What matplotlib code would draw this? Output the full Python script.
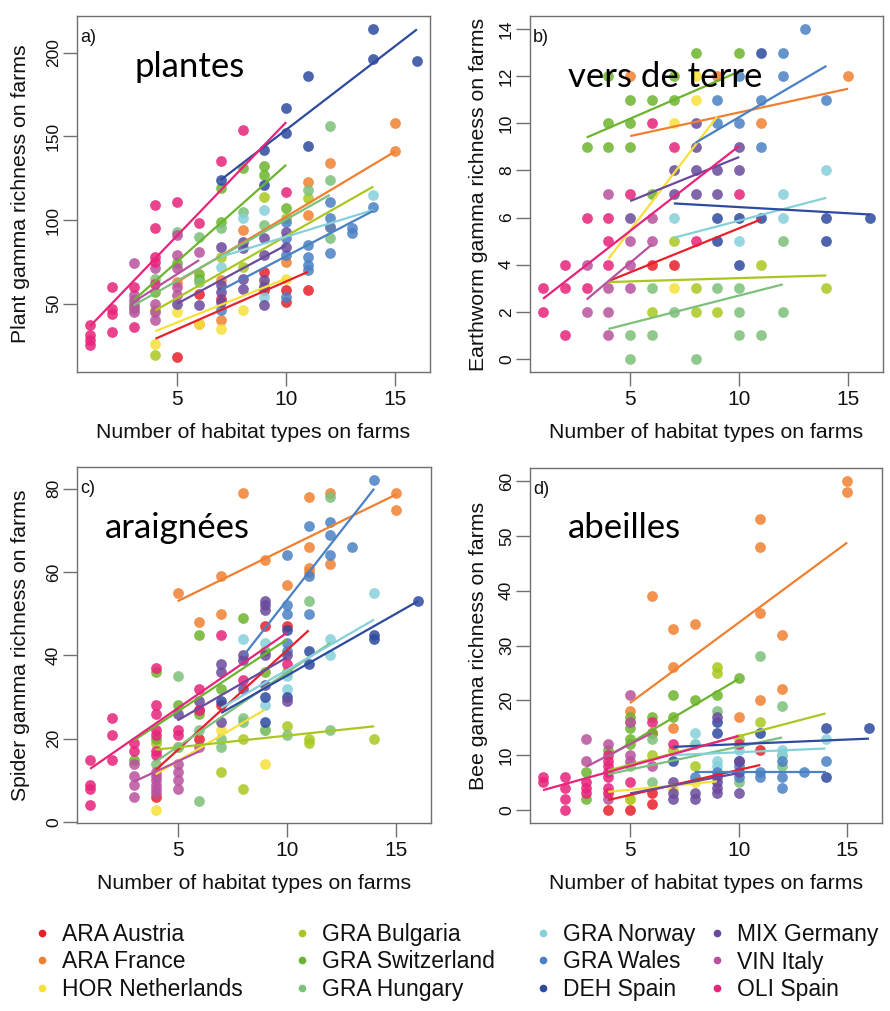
import matplotlib
matplotlib.use("Agg")
import matplotlib.pyplot as plt
from matplotlib.lines import Line2D

plt.rcParams['font.family'] = ['Liberation Sans', 'DejaVu Sans']

GROUPS = ["ARA Austria", "ARA France", "HOR Netherlands", "GRA Bulgaria",
          "GRA Switzerland", "GRA Hungary", "GRA Norway", "GRA Wales",
          "DEH Spain", "MIX Germany", "VIN Italy", "OLI Spain"]
COLORS = ["#E8202A", "#F08030", "#F7E03A", "#A8C820", "#6DB42E", "#7DC07A",
          "#86D0DA", "#4A80C4", "#2E4A9E", "#6A4A9C", "#B8529E", "#E8237A"]

XLABEL = "Number of habitat types on farms"
YLABELS = ["Plant gamma richness on farms", "Earthworm gamma richness on farms",
           "Spider gamma richness on farms", "Bee gamma richness on farms"]
TITLES = ["plantes", "vers de terre", "araignées", "abeilles"]
TAGS = ["a)", "b)", "c)", "d)"]
X_TICKS = [5, 10, 15]
Y_TICKS = [[50, 100, 150, 200], [0, 2, 4, 6, 8, 10, 12, 14],
           [0, 20, 40, 60, 80], [0, 10, 20, 30, 40, 50, 60]]

# ---------------- a) plants: (habitat types, richness) ----------------
plant_ARA_AT = [(5, 18), (6, 56), (7, 53), (9, 69), (9, 58), (10, 58), (10, 51), (11, 58)]
plant_ARA_FR = [(5, 63), (6, 38), (7, 64), (7, 40), (8, 94), (10, 75), (11, 123), (11, 103),
                (12, 134), (12, 96), (15, 158), (15, 141)]
plant_HOR_NL = [(4, 26), (5, 45), (6, 38), (7, 35), (8, 46), (9, 62), (10, 65)]
plant_GRA_BG = [(4, 19), (4, 46), (7, 78), (8, 72), (9, 114), (10, 101), (11, 113)]
plant_GRA_CH = [(3, 50), (4, 57), (5, 74), (6, 68), (6, 65), (7, 119), (7, 99), (8, 131),
                (9, 132), (9, 127), (10, 107)]
plant_GRA_HU = [(3, 47), (4, 65), (5, 93), (6, 90), (6, 63), (7, 95), (8, 105), (9, 97),
                (11, 118), (12, 156), (12, 124), (12, 89)]
plant_GRA_NO = [(7, 72), (8, 101), (9, 106), (9, 60), (9, 54), (14, 115)]
plant_GRA_WA = [(7, 46), (10, 99), (10, 89), (10, 79), (10, 54), (11, 85), (11, 78), (11, 73),
                (11, 70), (12, 111), (12, 101), (12, 96), (12, 80), (13, 95), (13, 92), (14, 108)]
plant_DEH_ES = [(7, 124), (9, 142), (9, 121), (10, 167), (10, 152), (11, 186), (11, 144),
                (14, 214), (14, 196), (16, 195)]
plant_MIX_DE = [(5, 50), (6, 49), (7, 84), (7, 61), (7, 57), (7, 51), (8, 87), (8, 83), (8, 65),
                (8, 59), (9, 89), (9, 79), (9, 64), (9, 60), (9, 49), (10, 93), (10, 84)]
plant_VIN_IT = [(3, 74), (3, 55), (3, 52), (3, 48), (3, 45), (4, 71), (4, 50), (4, 45), (4, 40),
                (5, 91), (5, 79), (5, 71), (5, 60), (5, 55), (6, 81)]
plant_OLI_ES = [(1, 37), (1, 31), (1, 28), (1, 25), (2, 60), (2, 47), (2, 44), (2, 33), (3, 60),
                (3, 36), (4, 109), (4, 95), (4, 78), (4, 75), (4, 62), (5, 111), (6, 98),
                (7, 135), (8, 154), (10, 117)]
# fitted lines per group (x from, x to, y from, y to), GROUPS order
plant_fits = [(4, 11, 29, 69), (5, 15, 63, 141), (4, 10, 33.5, 65), (4, 14, 46, 120),
              (3, 10, 52, 133), (3, 12, 49, 115), (7, 14, 78, 106), (7, 14, 58, 105.5),
              (7, 16, 124, 214), (5, 10, 50, 85), (3, 6, 51, 76), (1, 10, 36.5, 158.5)]

# ---------------- b) earthworms ----------------
worm_ARA_AT = [(6, 4), (7, 4)]
worm_ARA_FR = [(5, 12), (9, 12), (11, 10), (15, 12)]
worm_HOR_NL = [(7, 10), (7, 3), (8, 12), (8, 11)]
worm_GRA_BG = [(6, 2), (7, 5), (8, 3), (8, 2), (9, 2), (11, 4), (14, 3)]
worm_GRA_CH = [(3, 9), (4, 12), (4, 10), (4, 9), (5, 11), (5, 10), (5, 9), (6, 11), (6, 7),
               (7, 12), (7, 11), (8, 13), (10, 13)]
worm_GRA_HU = [(5, 1), (5, 0), (6, 3), (6, 1), (7, 2), (8, 0), (9, 3), (10, 3), (10, 2),
               (10, 1), (11, 1), (12, 5), (12, 2)]
worm_GRA_NO = [(7, 6), (10, 5), (12, 7), (12, 6), (14, 8)]
worm_GRA_WA = [(9, 11), (9, 10), (10, 12), (10, 10), (11, 11), (11, 9), (12, 13), (12, 12),
               (13, 14), (14, 11)]
worm_DEH_ES = [(9, 6), (9, 5), (10, 6), (10, 4), (11, 13), (11, 6), (14, 6), (14, 5), (16, 6)]
worm_MIX_DE = [(5, 6), (7, 8), (7, 7), (8, 10), (8, 9), (8, 8), (8, 7), (9, 8), (9, 7),
               (10, 9), (10, 8)]
worm_VIN_IT = [(3, 4), (3, 2), (4, 7), (4, 3), (4, 2), (4, 1), (5, 5), (5, 4), (5, 3),
               (6, 6), (6, 5)]
worm_OLI_ES = [(1, 3), (1, 2), (2, 4), (2, 3), (2, 1), (3, 6), (3, 3), (4, 6), (4, 5), (4, 4),
               (5, 7), (6, 10), (7, 9), (8, 5), (10, 7)]
worm_fits = [(4, 11, 3.3, 5.92), (5, 15, 9.46, 11.47), (4, 9, 4.25, 10.3), (4, 14, 3.26, 3.54),
             (3, 10, 9.4, 12.2), (4, 12, 1.27, 3.16), (7, 14, 5.14, 6.84), (8, 14, 9.18, 12.44),
             (7, 16, 6.6, 6.13), (5, 10, 6.7, 8.57), (3, 6, 2.52, 4.86), (1, 10, 2.55, 9.04)]

# ---------------- c) spiders ----------------
spider_ARA_AT = [(4, 6), (6, 27), (6, 20), (7, 28), (9, 47), (10, 47)]
spider_ARA_FR = [(5, 55), (6, 48), (7, 59), (7, 50), (8, 79), (9, 63), (10, 57), (11, 78),
                 (11, 66), (11, 61), (11, 60), (12, 79), (12, 62), (15, 79), (15, 75)]
spider_HOR_NL = [(4, 3), (7, 22), (9, 14)]
spider_GRA_BG = [(4, 19), (5, 18), (7, 12), (8, 20), (8, 8), (9, 22), (10, 23), (11, 20),
                 (11, 19), (14, 20)]
spider_GRA_CH = [(3, 15), (4, 36), (4, 20), (5, 28), (6, 45), (6, 26), (7, 32), (8, 49),
                 (9, 41), (9, 36), (10, 36)]
spider_GRA_HU = [(4, 14), (5, 35), (5, 18), (6, 22), (6, 5), (7, 18), (7, 20), (8, 25),
                 (8, 24), (9, 22), (10, 21), (11, 53), (12, 78), (12, 22)]
spider_GRA_NO = [(8, 44), (9, 43), (9, 28), (10, 32), (10, 35), (12, 44), (12, 40), (14, 55)]
spider_GRA_WA = [(10, 64), (10, 52), (10, 50), (10, 43), (10, 41), (11, 71), (11, 59),
                 (11, 50), (12, 72), (12, 69), (12, 64), (13, 66), (14, 82)]
spider_DEH_ES = [(7, 29), (9, 30), (9, 24), (10, 46), (10, 30), (11, 41), (11, 38), (14, 45),
                 (14, 44), (16, 53)]
spider_MIX_DE = [(5, 26), (6, 29), (7, 38), (7, 36), (7, 24), (8, 40), (8, 39), (8, 32),
                 (9, 53), (9, 52), (9, 51), (9, 40), (9, 33), (10, 40), (10, 29)]
spider_VIN_IT = [(3, 14), (3, 11), (3, 9), (3, 6), (4, 12), (4, 11), (4, 10), (4, 9), (4, 8),
                 (4, 7), (5, 14), (5, 12), (5, 10), (5, 8), (6, 18)]
spider_OLI_ES = [(1, 15), (1, 9), (1, 8), (1, 4), (2, 25), (2, 21), (2, 15), (3, 19), (3, 17),
                 (4, 37), (4, 28), (4, 26), (4, 22), (4, 21), (4, 17), (4, 16), (5, 22),
                 (5, 21), (6, 32), (6, 27), (7, 45), (8, 34), (10, 38)]
spider_fits = [(4, 11, 12.5, 46), (5, 15, 53, 78.6), (4, 9, 11.5, 27), (4, 14, 17.4, 23),
               (3, 10, 19.6, 43.8), (4, 12, 14.5, 43), (7, 14, 27.4, 48.6), (8, 14, 39.8, 80),
               (7, 16, 26.2, 53), (5, 10, 24.4, 39.5), (3, 6, 9.7, 17), (1, 10, 12.8, 45.4)]

# ---------------- d) bees ----------------
bee_ARA_AT = [(4, 0), (5, 0), (6, 1), (6, 3), (6, 14), (11, 11)]
bee_ARA_FR = [(5, 18), (5, 16), (6, 39), (7, 33), (7, 26), (7, 15), (8, 34), (10, 17),
              (11, 53), (11, 48), (11, 36), (11, 20), (12, 32), (12, 22), (15, 60), (15, 58)]
bee_HOR_NL = [(4, 3), (5, 2), (7, 4), (8, 5)]
bee_GRA_BG = [(5, 2), (6, 10), (7, 11), (8, 8), (9, 26), (9, 25), (10, 13), (11, 16), (12, 10)]
bee_GRA_CH = [(3, 7), (3, 2), (4, 11), (5, 17), (5, 15), (5, 13), (5, 12), (6, 17), (6, 14),
              (7, 21), (7, 17), (8, 20), (9, 21), (10, 24)]
bee_GRA_HU = [(5, 8), (6, 5), (6, 13), (8, 12), (9, 18), (10, 5), (11, 28), (12, 19), (12, 8)]
bee_GRA_NO = [(8, 14), (8, 12), (9, 9), (9, 8), (10, 11), (12, 11), (12, 10), (14, 13)]
bee_GRA_WA = [(8, 6), (9, 7), (10, 8), (10, 6), (11, 7), (11, 6), (12, 9), (12, 6), (12, 4),
              (13, 7), (14, 9)]
bee_DEH_ES = [(7, 9), (9, 16), (9, 14), (10, 9), (11, 14), (14, 15), (14, 6), (16, 15)]
bee_MIX_DE = [(7, 5), (7, 3), (7, 2), (8, 3), (8, 2), (9, 17), (9, 6), (9, 5), (9, 4), (9, 3),
              (10, 9), (10, 7), (10, 3)]
bee_VIN_IT = [(3, 13), (3, 9), (4, 12), (4, 2), (5, 21), (5, 16), (5, 10), (5, 9), (6, 8)]
bee_OLI_ES = [(1, 6), (1, 5), (2, 6), (2, 4), (2, 2), (2, 0), (3, 5), (3, 4), (3, 3), (4, 10),
              (4, 9), (4, 8), (4, 7), (4, 6), (4, 4), (4, 3), (5, 5), (6, 16), (7, 12), (10, 12)]
bee_fits = [(4, 11, 1.8, 8.2), (5, 15, 19.5, 48.8), (4, 9, 3.3, 5.2), (4, 14, 7.2, 17.6),
            (4, 10, 9.8, 23.9), (4, 12, 6.5, 13.2), (7, 14, 10, 11.2), (8, 14, 7.0, 7.0),
            (7, 16, 11.5, 13), (5, 10, 3, 6.7), (3, 6, 7.9, 14), (1, 10, 3.6, 13.5)]

PANEL_POINTS = [
    [plant_ARA_AT, plant_ARA_FR, plant_HOR_NL, plant_GRA_BG, plant_GRA_CH, plant_GRA_HU,
     plant_GRA_NO, plant_GRA_WA, plant_DEH_ES, plant_MIX_DE, plant_VIN_IT, plant_OLI_ES],
    [worm_ARA_AT, worm_ARA_FR, worm_HOR_NL, worm_GRA_BG, worm_GRA_CH, worm_GRA_HU,
     worm_GRA_NO, worm_GRA_WA, worm_DEH_ES, worm_MIX_DE, worm_VIN_IT, worm_OLI_ES],
    [spider_ARA_AT, spider_ARA_FR, spider_HOR_NL, spider_GRA_BG, spider_GRA_CH, spider_GRA_HU,
     spider_GRA_NO, spider_GRA_WA, spider_DEH_ES, spider_MIX_DE, spider_VIN_IT, spider_OLI_ES],
    [bee_ARA_AT, bee_ARA_FR, bee_HOR_NL, bee_GRA_BG, bee_GRA_CH, bee_GRA_HU,
     bee_GRA_NO, bee_GRA_WA, bee_DEH_ES, bee_MIX_DE, bee_VIN_IT, bee_OLI_ES],
]
PANEL_FITS = [plant_fits, worm_fits, spider_fits, bee_fits]
YLIMS = [(9.1, 222), (-0.56, 14.56), (-0.2, 85.2), (-2.4, 62.4)]

W, H = 890, 1011
fig = plt.figure(figsize=(W / 100, H / 100), dpi=100)
fig.patch.set_facecolor("white")

# axes boxes in pixels: left, top, right, bottom
BOXES = [(77, 16, 430, 372), (530, 16, 883, 372), (77, 467, 431, 823), (530, 468, 882, 823)]
TITLE_POS = [(0.164, 0.857), (0.108, 0.83), (0.078, 0.83), (0.108, 0.832)]
YLABEL_X = [-0.161, -0.147, -0.161, -0.147]

SPINE = "#707070"
for i in range(4):
    l, t, r, b = BOXES[i]
    ax = fig.add_axes([l / W, 1 - b / H, (r - l) / W, (b - t) / H])
    for g, pts in enumerate(PANEL_POINTS[i]):
        xs = [p[0] for p in pts]
        ys = [p[1] for p in pts]
        ax.scatter(xs, ys, s=60, color=COLORS[g], alpha=0.85, linewidths=0, zorder=2)
    for g, (x0, x1, y0, y1) in enumerate(PANEL_FITS[i]):
        ax.plot([x0, x1], [y0, y1], color=COLORS[g], lw=1.6, zorder=3,
                solid_capstyle="butt")
    ax.set_xlim(0.4, 16.6)
    ax.set_ylim(*YLIMS[i])
    ax.set_xticks(X_TICKS)
    ax.set_yticks(Y_TICKS[i])
    ax.tick_params(axis="both", direction="out", length=10, width=1, color=SPINE,
                   labelcolor="#111111")
    ax.tick_params(axis="x", labelsize=15, pad=3)
    ax.tick_params(axis="y", labelsize=12.5, pad=1.5, labelrotation=90)
    for lab in ax.get_yticklabels():
        lab.set_va("center")
    for sp in ax.spines.values():
        sp.set_color(SPINE)
        sp.set_linewidth(1)
    ax.set_xlabel(XLABEL, fontsize=15.3, color="#111111")
    ax.xaxis.set_label_coords(0.5, -0.17)
    ax.xaxis.label.set_va("center")
    ax.set_ylabel(YLABELS[i], fontsize=15.3, color="#111111")
    ax.yaxis.set_label_coords(YLABEL_X[i], 0.5)
    ax.yaxis.label.set_va("center")
    ax.text(0.008, 0.94, TAGS[i], transform=ax.transAxes, fontsize=13, va="center",
            ha="left", color="#111111")
    ax.text(TITLE_POS[i][0], TITLE_POS[i][1], TITLES[i], transform=ax.transAxes,
            fontsize=25, family=["Lato", "DejaVu Sans"], va="center", ha="left",
            color="black", zorder=5)

# legend: four columns of three entries, text starting at these pixel positions
LEG_TEXT_X = [62, 322, 563, 737]
LEG_FS = 16.5
for c in range(4):
    idx = range(c * 3, c * 3 + 3)
    handles = [Line2D([], [], marker="o", ls="none", markersize=5.5, color=COLORS[k],
                      markeredgewidth=0) for k in idx]
    labels = [GROUPS[k] for k in idx]
    x_anchor = (LEG_TEXT_X[c] - 29) / W
    leg = fig.legend(handles, labels, loc="center left",
                     bbox_to_anchor=(x_anchor, 1 - 962 / H),
                     frameon=False, fontsize=LEG_FS, handlelength=0.8, handletextpad=0.45,
                     labelspacing=0.2, borderpad=0, borderaxespad=0)
    for txt in leg.get_texts():
        txt.set_color("#111111")

fig.savefig("out.png", dpi=100, facecolor="white")
